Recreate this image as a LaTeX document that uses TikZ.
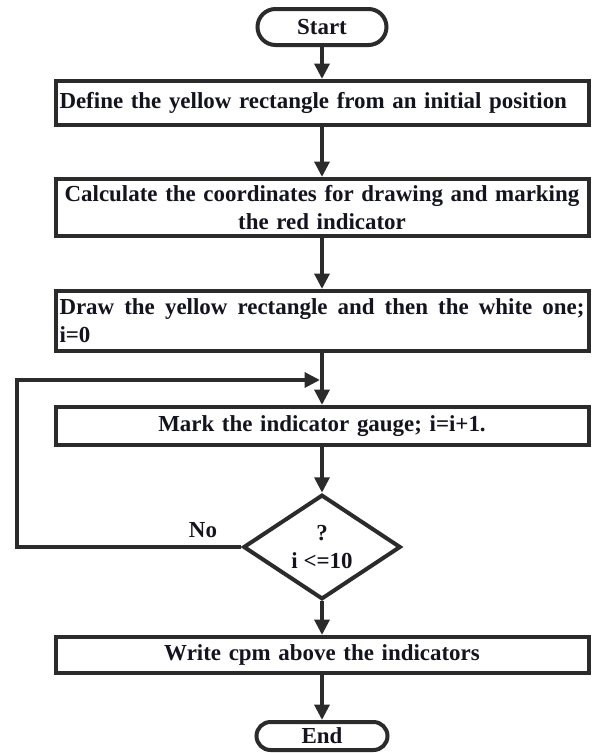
\documentclass[tikz,border=0pt]{standalone}
\usepackage{fontspec}
\setmainfont{Liberation Serif}
\usetikzlibrary{shapes.geometric,arrows.meta}
\definecolor{ln}{HTML}{2B2B2B}
\definecolor{tx}{HTML}{141420}
\begin{document}
\begin{tikzpicture}[x=0.75pt,y=-0.75pt,
  font=\fontsize{17.2}{21}\selectfont\bfseries,
  every node/.style={text=tx},
  box/.style={draw=ln, line width=3pt, fill=white, inner xsep=3pt, inner ysep=0pt,
    minimum width=399.75pt, text width=393.75pt},
  term/.style={draw=ln, line width=3pt, fill=white, inner sep=0pt},
  dia/.style={diamond, draw=ln, line width=3pt, fill=white, inner sep=0pt,
    minimum width=118pt, minimum height=73pt, align=center},
  arr/.style={draw=ln, line width=3pt, -{Triangle[length=11.5pt,width=11pt]}}]
\fill[white] (0,0) rectangle (593,753);
\useasboundingbox (0,0) rectangle (593,753);

\node[term, rounded corners=13.5pt, minimum width=96.75pt, minimum height=27pt] (st) at (322,27) {Start};
\node[box, minimum height=33pt, align=left] (b1) at (322,103) {Define the yellow rectangle from an initial position};
\node[box, minimum height=42.75pt, align=center] (b2) at (322,207.5) {Calculate the coordinates for drawing and marking\\the red indicator};
\node[box, minimum height=45pt, align=justify] (b3) at (322,321) {Draw the yellow rectangle and then the white one;\linebreak i=0};
\node[box, minimum height=28.5pt, align=center] (b4) at (322,426) {Mark the indicator gauge; i=i+1.};
\node[dia] (dec) at (322,547) {?\\i <=10};
\node (no) at (203,530) {No};
\node[box, minimum height=27pt, align=center] (b5) at (322,655) {Write cpm above the indicators};
\node[term, rounded corners=10.5pt, minimum width=98.25pt, minimum height=21pt] (en) at (322,736) {End};

\coordinate (lpt) at (17,380);
\coordinate (jn) at (320,380);

\draw[arr] (st) -- (b1);
\draw[arr] (b1) -- (b2);
\draw[arr] (b2) -- (b3);
\draw[arr] (b3) -- (b4);
\draw[arr] (b4) -- (dec);
\draw[arr] (dec) -- (b5);
\draw[arr] (b5) -- (en);
\draw[arr] (dec.west) -| (lpt) -- (jn);
\end{tikzpicture}
\end{document}
